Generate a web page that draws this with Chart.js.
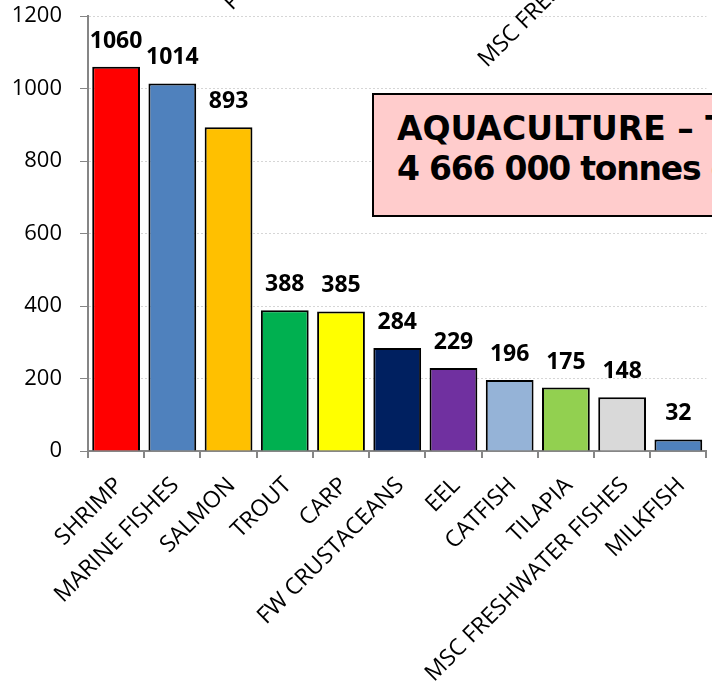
<!DOCTYPE html>
<html>
<head>
<meta charset="utf-8">
<script src="https://cdn.jsdelivr.net/npm/chart.js@4"></script>
<style>
  html, body { margin: 0; padding: 0; background: #fff; overflow: hidden; }
  #wrap { position: relative; width: 712px; height: 687px; overflow: hidden; }
  #box {
    position: absolute; left: 372px; top: 93px; width: 420px; height: 124px;
    background: #ffcccc; border: 2px solid #000;
    font: bold 33px "DejaVu Sans", sans-serif; color: #000;
    white-space: nowrap; line-height: 40px; padding: 14px 0 0 23px; box-sizing: border-box;
  }
  #box span { letter-spacing: -1.2px; }
</style>
</head>
<body>
<div id="wrap">
  <canvas id="myChart" width="712" height="687"></canvas>
  <div id="box">AQUACULTURE – TOTAL<br><span>4 666 000 tonnes of</span></div>
</div>
<script>
// categories
var species = ['SHRIMP', 'MARINE FISHES', 'SALMON', 'TROUT', 'CARP', 'FW CRUSTACEANS',
  'EEL', 'CATFISH', 'TILAPIA', 'MSC FRESHWATER FISHES', 'MILKFISH']
// values (thousand tonnes)
var tonnes = [1060, 1014, 893, 388, 385, 284, 229, 196, 175, 148, 32]
var barColors = ['#ff0000', '#4f81bd', '#ffc000', '#00b050', '#ffff00', '#002060',
  '#7030a0', '#95b3d7', '#92d050', '#d9d9d9', '#4f81bd']
// leftover labels of the chart above, cut by the top edge
var cutLabels = ['P', 'MSC FRESHWATER FISHES']

// values above bars
var valueLabels = {
  id: 'valueLabels',
  afterDatasetsDraw(chart) {
    var ctx = chart.ctx
    var meta = chart.getDatasetMeta(0)
    ctx.save()
    ctx.font = 'bold 23px "Open Sans"'
    ctx.fillStyle = '#000'
    ctx.textAlign = 'center'
    ctx.textBaseline = 'alphabetic'
    meta.data.forEach(function (bar, i) {
      ctx.fillText(tonnes[i], bar.x, bar.y - 19)
    })
    ctx.restore()
  }
}

var topLabels = {
  id: 'topLabels',
  afterDraw(chart) {
    var ctx = chart.ctx
    var spots = [[232, 11], [487, 68]]
    ctx.save()
    ctx.font = '23px "Open Sans"'
    ctx.fillStyle = '#000'
    ctx.textAlign = 'left'
    ctx.textBaseline = 'alphabetic'
    cutLabels.forEach(function (t, i) {
      ctx.save()
      ctx.translate(spots[i][0], spots[i][1])
      ctx.rotate(-Math.PI / 4)
      ctx.fillText(t, 0, 0)
      ctx.restore()
    })
    ctx.restore()
  }
}

var myChart = new Chart(document.getElementById('myChart').getContext('2d'), {
  type: 'bar',
  data: {
    labels: species,
    datasets: [{
      data: tonnes,
      backgroundColor: barColors,
      borderColor: '#000',
      borderWidth: 2,
      categoryPercentage: 1,
      barPercentage: 0.85
    }]
  },
  options: {
    responsive: false,
    animation: false,
    layout: { padding: { top: 16, right: 3, left: 0, bottom: 0 } },
    plugins: { legend: { display: false }, tooltip: { enabled: false } },
    scales: {
      x: {
        grid: { offset: true, drawOnChartArea: false, drawTicks: true, tickLength: 7, color: '#868686', lineWidth: 2 },
        border: { color: '#868686', width: 2 },
        ticks: {
          autoSkip: false, minRotation: 45, maxRotation: 45, padding: 14, labelOffset: 3,
          color: '#000', font: { family: 'Open Sans', size: 23 }
        },
        afterFit: function (s) { s.height = 236 }
      },
      y: {
        min: 0, max: 1200,
        grid: { color: '#d6d6d6', lineWidth: 1, tickLength: 8, tickColor: '#868686' },
        border: { color: '#868686', width: 2, dash: [2, 2] },
        ticks: {
          stepSize: 200, padding: 18,
          color: '#000', font: { family: 'Open Sans', size: 22 },
          callback: function (v) { return String(v) }
        },
        afterFit: function (s) { s.width = 88; s.paddingTop = 0; s.paddingBottom = 0 }
      }
    }
  },
  plugins: [valueLabels, topLabels]
})
</script>
</body>
</html>
